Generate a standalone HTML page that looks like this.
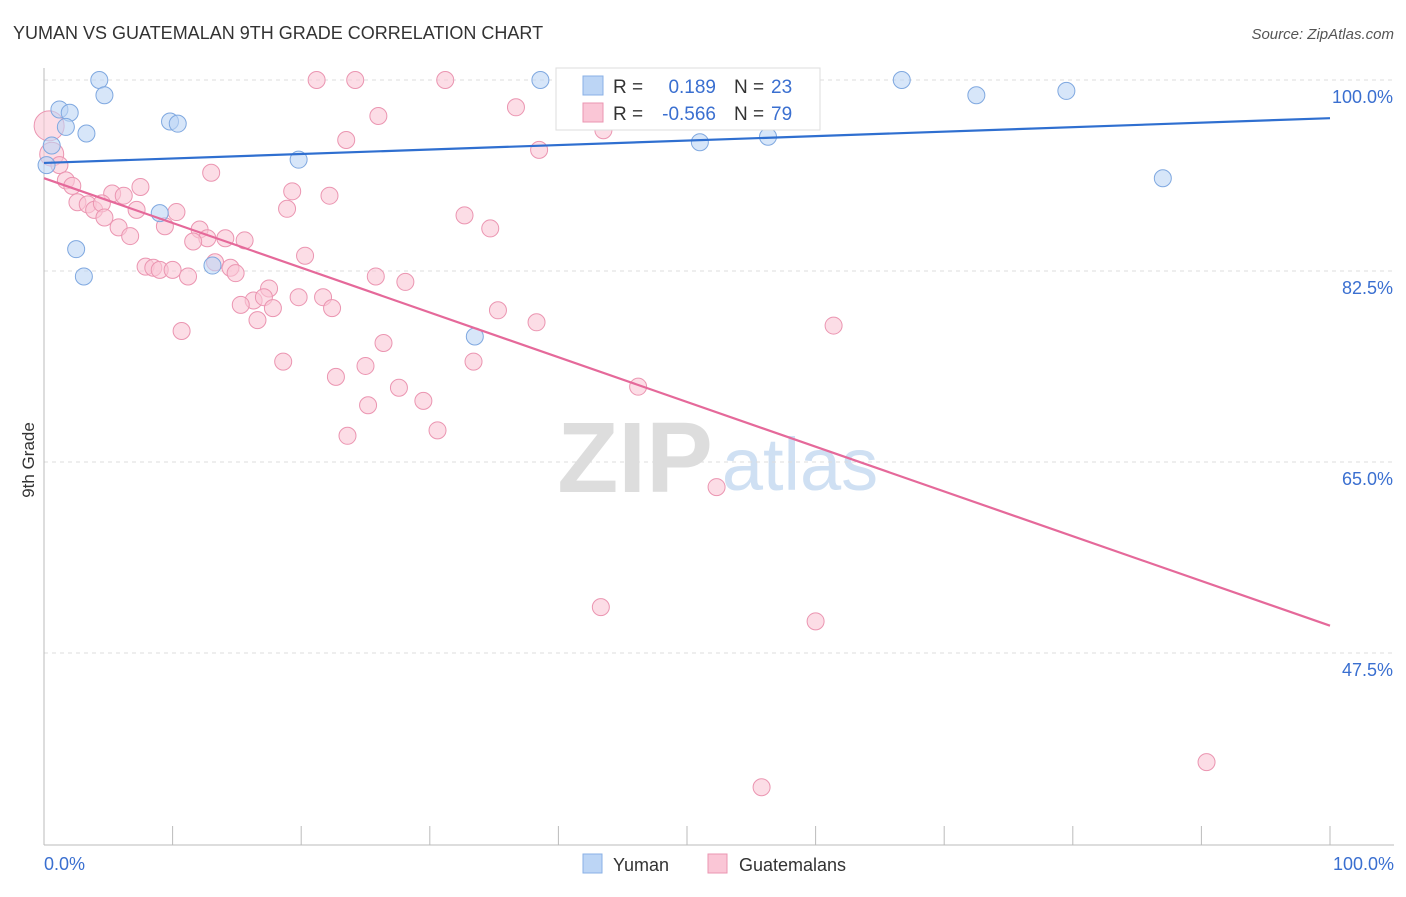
<!DOCTYPE html>
<html><head><meta charset="utf-8"><style>
body{margin:0;background:#fff;font-family:"Liberation Sans",sans-serif;}
svg text{font-family:"Liberation Sans",sans-serif;}
</style></head><body>
<svg id="c" width="1406" height="892" xmlns="http://www.w3.org/2000/svg">
<text x="13" y="39" font-size="18" fill="#333">YUMAN VS GUATEMALAN 9TH GRADE CORRELATION CHART</text>
<text x="1394" y="39" font-size="15" fill="#555" text-anchor="end" font-style="italic">Source: ZipAtlas.com</text>
<text x="34" y="460" font-size="17" fill="#333" text-anchor="middle" transform="rotate(-90 34 460)">9th Grade</text>
<g><text x="635" y="492" font-size="100" fill="#ddd" text-anchor="middle" font-family="Liberation Serif" font-weight="bold">ZIP</text><text x="800" y="490" font-size="74" fill="#cfe0f3" text-anchor="middle">atlas</text></g>
<g id="grid"></g><g id="axes"></g><g id="pts"></g><g id="lines"></g>
<g>
<rect x="556" y="68" width="264" height="62" fill="#fff" stroke="#ddd"/>
<rect x="583" y="76" width="20" height="19" fill="#bcd5f5" stroke="#8ab0e6"/>
<rect x="583" y="103" width="20" height="19" fill="#fac6d6" stroke="#eb95b1"/>
<text x="613" y="93" font-size="19" fill="#333">R =</text><text x="716" y="93" font-size="19" fill="#3a6fd0" text-anchor="end">0.189</text>
<text x="734" y="93" font-size="19" fill="#333">N =</text><text x="771" y="93" font-size="19" fill="#3a6fd0">23</text>
<text x="613" y="120" font-size="19" fill="#333">R =</text><text x="716" y="120" font-size="19" fill="#3a6fd0" text-anchor="end">-0.566</text>
<text x="734" y="120" font-size="19" fill="#333">N =</text><text x="771" y="120" font-size="19" fill="#3a6fd0">79</text>
</g>
<g>
<rect x="583" y="854" width="19" height="19" fill="#bcd5f5" stroke="#8ab0e6"/><text x="613" y="871" font-size="18" fill="#333">Yuman</text>
<rect x="708" y="854" width="19" height="19" fill="#fac6d6" stroke="#eb95b1"/><text x="739" y="871" font-size="18" fill="#333">Guatemalans</text>
</g>
</svg>
<script>
const yTicks=[100,82.5,65,47.5];
const yTickLabels=["100.0%","82.5%","65.0%","47.5%"];
const xLabels=["0.0%","100.0%"];
const yumanX=[4.3,38.6,66.7,1.2,2.0,4.7,1.7,3.3,0.6,0.2,9.8,10.4,19.8,51.0,56.3,72.5,79.5,87.0,9.0,2.5,3.1,13.1,33.5];
const yumanY=[100,100,100,97.3,97.0,98.6,95.7,95.1,94.0,92.2,96.2,96.0,92.7,94.3,94.8,98.6,99.0,91.0,87.8,84.5,82.0,83.0,76.5];
const guatX=[21.2,24.2,31.2,58.6,36.7,26.0,43.5,23.5,38.5,0.4,0.6,1.2,1.7,2.2,13.0,7.5,5.3,6.2,19.3,22.2,2.6,3.4,3.9,4.5,7.2,10.3,18.9,32.7,4.7,5.8,9.4,6.7,12.1,12.7,14.1,15.6,11.6,34.7,20.3,7.9,8.5,9.0,10.0,11.2,13.3,14.5,14.9,25.8,28.1,17.5,16.3,17.1,15.3,17.8,19.8,21.7,22.4,16.6,35.3,38.3,61.4,10.7,26.4,18.6,33.4,25.0,22.7,27.6,46.2,25.2,29.5,23.6,30.6,52.3,43.3,60.0,90.4,55.8];
const guatY=[100,100,100,100,97.5,96.7,95.4,94.5,93.6,95.8,93.2,92.2,90.8,90.3,91.5,90.2,89.6,89.4,89.8,89.4,88.8,88.6,88.1,88.7,88.1,87.9,88.2,87.6,87.4,86.5,86.6,85.7,86.3,85.5,85.5,85.3,85.2,86.4,83.9,82.9,82.8,82.6,82.6,82.0,83.3,82.8,82.3,82.0,81.5,80.9,79.8,80.1,79.4,79.1,80.1,80.1,79.1,78.0,78.9,77.8,77.5,77.0,75.9,74.2,74.2,73.8,72.8,71.8,71.9,70.2,70.6,67.4,67.9,62.7,51.7,50.4,37.5,35.2];
const yumanFit=[92.4,96.5];
const guatFit=[91.0,50.0];
const NS="http://www.w3.org/2000/svg";
const X=v=>44+v*12.86, Y=v=>80+(100-v)*10.914;
function mk(t,a,p){const e=document.createElementNS(NS,t);for(const k in a)e.setAttribute(k,a[k]);p.appendChild(e);return e;}
const grid=document.getElementById('grid'),axes=document.getElementById('axes'),pts=document.getElementById('pts'),lines=document.getElementById('lines');
yTicks.forEach((t,i)=>{
 const l=mk('line',{x1:44,x2:1394,y1:Y(t),y2:Y(t),stroke:'#ddd','stroke-dasharray':'4,4'},grid);
 
 
 const tx=mk('text',{x:1393,y:Y(t)+23,'font-size':18,fill:'#3a6fd0','text-anchor':'end'},axes);
 tx.textContent=yTickLabels[i];
 
 
});
const ax=mk('line',{x1:44,x2:44,y1:68,y2:845,stroke:'#bbb'},axes);

const bx=mk('line',{x1:44,x2:1394,y1:845,y2:845,stroke:'#bbb'},axes);

for(let i=0;i<=10;i++){const tk=mk('line',{x1:X(i*10),x2:X(i*10),y1:826,y2:845,stroke:'#bbb'},axes);
 
 }
[[0,'start',44],[100,'end',1394]].forEach(([v,a,x],i)=>{const t=mk('text',{x:x,y:870,'font-size':18,fill:'#3a6fd0','text-anchor':a},axes);t.textContent=xLabels[i];
 
 });
guatX.forEach((x,i)=>{const r=(i===9)?15:(i===10?12:8.5);const c=mk('circle',{cx:X(x),cy:Y(guatY[i]),r:r,fill:'#fac6d6','fill-opacity':0.6,stroke:'#eb95b1','stroke-width':1},pts);
 
 });
yumanX.forEach((x,i)=>{const c=mk('circle',{cx:X(x),cy:Y(yumanY[i]),r:8.5,fill:'#bcd5f5','fill-opacity':0.6,stroke:'#7fa8e0','stroke-width':1},pts);
 
 });
const l1=mk('line',{x1:X(0),y1:Y(yumanFit[0]),x2:X(100),y2:Y(yumanFit[1]),stroke:'#2f6fd0','stroke-width':2.2},lines);

const l2=mk('line',{x1:X(0),y1:Y(guatFit[0]),x2:X(100),y2:Y(guatFit[1]),stroke:'#e5699a','stroke-width':2.2},lines);

</script>
</body></html>
